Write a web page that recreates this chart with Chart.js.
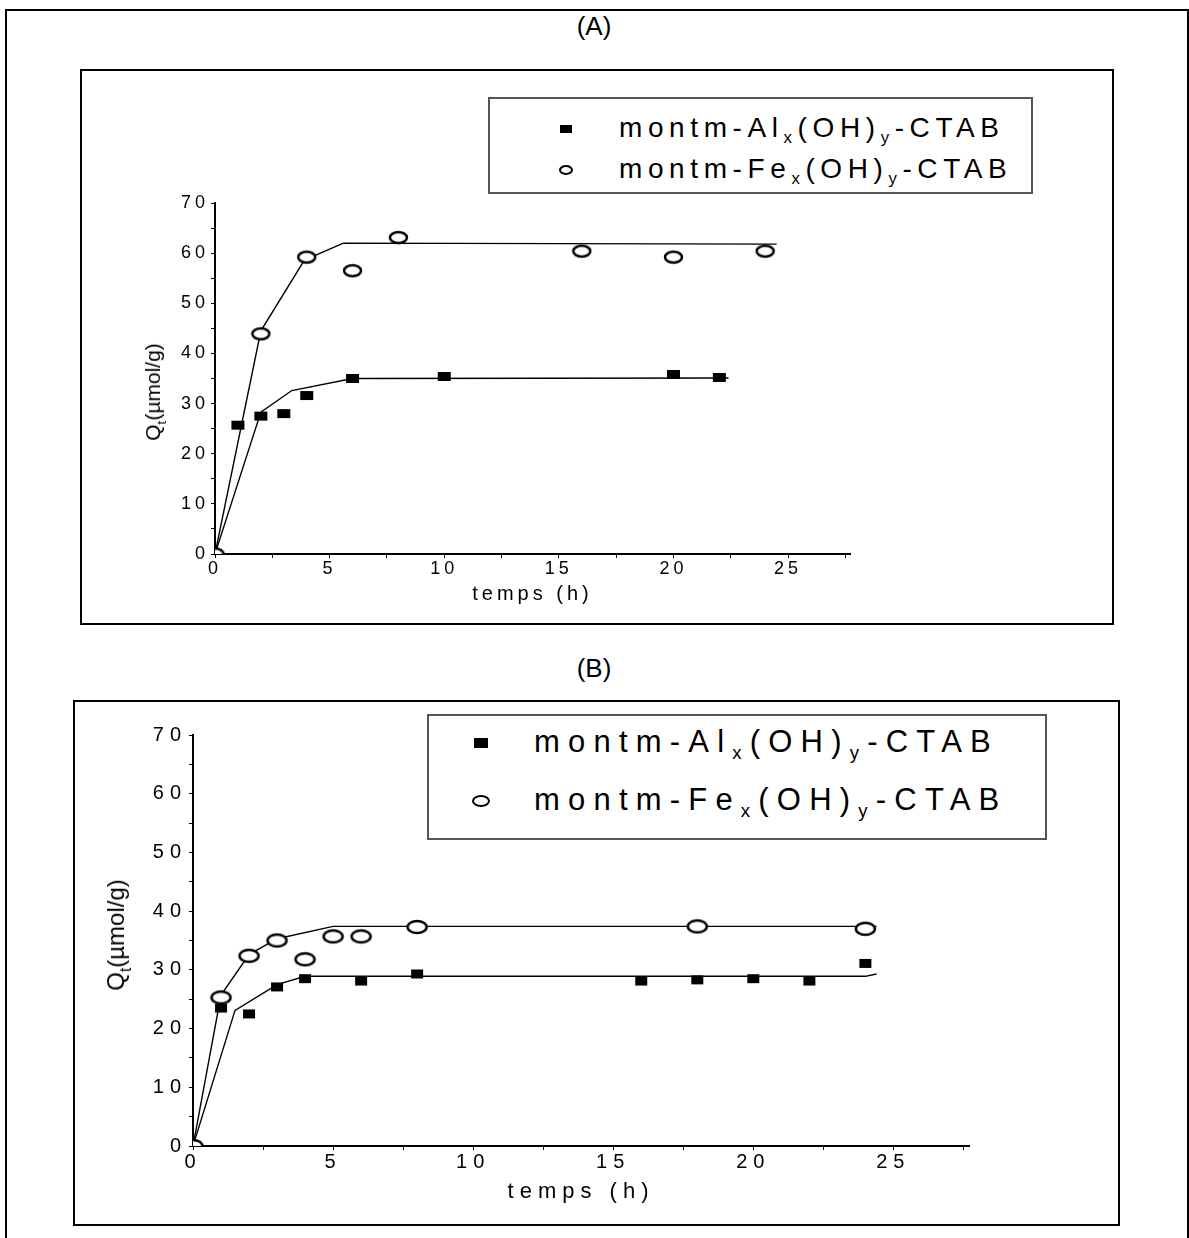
<!DOCTYPE html>
<html><head><meta charset="utf-8">
<script src="https://cdn.jsdelivr.net/npm/chart.js@4/dist/chart.umd.min.js"></script>
<style>
body{margin:0;background:#fff;font-family:"Liberation Sans",Arial,sans-serif;color:#000;}
#page{position:relative;width:1189px;height:1238px;overflow:hidden;}
.frame{position:absolute;border:2px solid #000;box-sizing:border-box;}
.lbl{position:absolute;transform:translate(-50%,-50%);white-space:nowrap;}
canvas{position:absolute;}
.legend{position:absolute;border:2px solid #555;box-sizing:border-box;background:#fff;}
.row{position:absolute;white-space:nowrap;}
.row sub{font-size:0.6em;vertical-align:-0.35em;line-height:0;}
.sq{position:absolute;background:#000;transform:translate(-50%,-50%);}
.el{position:absolute;border:2px solid #000;border-radius:50%;box-sizing:border-box;transform:translate(-50%,-50%);}
.ytitle{position:absolute;white-space:nowrap;transform:translate(-50%,-50%) rotate(-90deg);}
.ytitle sub{font-size:0.65em;vertical-align:-0.45em;line-height:0;}
</style>
</head><body>
<div id="page">
  <div class="frame" style="left:5px;top:9px;width:1184px;height:1250px;"></div>
  <div class="lbl" style="left:594px;top:26px;font-size:26px;">(A)</div>
  <div class="frame" style="left:80px;top:69px;width:1034px;height:556px;"></div>
  <canvas id="chartA" width="1030" height="552" style="left:82px;top:71px;"></canvas>
  <div class="ytitle" style="left:153px;top:392px;font-size:21px;">Q<sub>t</sub>(µmol/g)</div>
  <div class="legend" style="left:488px;top:97px;width:545px;height:97px;"></div>
  <div class="sq" style="left:566px;top:129px;width:12px;height:8px;"></div>
  <div class="el" style="left:566px;top:170px;width:14px;height:10px;"></div>
  <div class="row" style="left:619px;top:112px;font-size:28px;line-height:32px;letter-spacing:5.6px;">montm-Al<sub>x</sub>(OH)<sub>y</sub>-CTAB</div>
  <div class="row" style="left:619px;top:153px;font-size:28px;line-height:32px;letter-spacing:5.6px;">montm-Fe<sub>x</sub>(OH)<sub>y</sub>-CTAB</div>

  <div class="lbl" style="left:594px;top:668px;font-size:26px;">(B)</div>
  <div class="frame" style="left:73px;top:700px;width:1047px;height:526px;"></div>
  <canvas id="chartB" width="1043" height="522" style="left:75px;top:702px;"></canvas>
  <div class="ytitle" style="left:116px;top:935px;font-size:24px;">Q<sub>t</sub>(µmol/g)</div>
  <div class="legend" style="left:427px;top:714px;width:620px;height:126px;"></div>
  <div class="sq" style="left:481px;top:743px;width:14px;height:10px;"></div>
  <div class="el" style="left:481px;top:801px;width:18px;height:12px;"></div>
  <div class="row" style="left:534px;top:725px;font-size:31px;line-height:34px;letter-spacing:8.2px;">montm-Al<sub>x</sub>(OH)<sub>y</sub>-CTAB</div>
  <div class="row" style="left:534px;top:783px;font-size:31px;line-height:34px;letter-spacing:8.2px;">montm-Fe<sub>x</sub>(OH)<sub>y</sub>-CTAB</div>
</div>
<script>
// ---- data (A) ----
const aAlTime = [1, 2, 3, 4, 6, 10, 20, 22];
const aAlQ    = [25.7, 27.5, 28.0, 31.6, 35.0, 35.4, 35.8, 35.2];
const aFeTime = [0, 2, 4, 6, 8, 16, 20, 24];
const aFeQ    = [0, 43.9, 59.2, 56.5, 63.1, 60.4, 59.2, 60.4];
const aAlFitTime = [0, 2, 3.35, 6, 22.4];
const aAlFitQ    = [0, 28.3, 32.6, 35.0, 35.1];
const aFeFitTime = [0, 2, 3.9, 5.6, 24.5];
const aFeFitQ    = [0, 44.5, 58.6, 62.0, 61.8];
// ---- data (B) ----
const bAlTime = [1, 2, 3, 4, 6, 8, 16, 18, 20, 22, 24];
const bAlQ    = [23.5, 22.5, 27.1, 28.5, 28.1, 29.3, 28.1, 28.3, 28.5, 28.1, 31.1];
const bFeTime = [0, 1, 2, 3, 4, 5, 6, 8, 18, 24];
const bFeQ    = [0, 25.3, 32.4, 35.0, 31.8, 35.7, 35.7, 37.3, 37.4, 37.0];
const bAlFitTime = [0, 1.5, 3, 4, 24.0, 24.4];
const bAlFitQ    = [0, 23.1, 27.5, 28.9, 28.9, 29.3];
const bFeFitTime = [0, 1, 2, 3, 5, 24.4];
const bFeFitQ    = [0, 25.7, 32.6, 35.3, 37.4, 37.4];
// ---- axis ----
const xMax = 27.7;
const yMax = 70;
const xTitle = 'temps (h)';
const seriesNames = ['montm-Alx(OH)y-CTAB', 'montm-Fex(OH)y-CTAB'];

const FONT = '"Liberation Sans", Arial, sans-serif';

function toXY(xs, ys) { return xs.map((x, i) => ({ x: x, y: ys[i] })); }

function markerImg(kind, w, h, lw) {
  const c = document.createElement('canvas');
  const pad = Math.ceil(lw) + 1;
  c.width = w + pad * 2; c.height = h + pad * 2;
  const g = c.getContext('2d');
  if (kind === 'rect') {
    g.fillStyle = '#000'; g.fillRect(pad, pad, w, h);
  } else {
    g.beginPath();
    g.ellipse(c.width / 2, c.height / 2, w / 2, h / 2, 0, 0, Math.PI * 2);
    g.fillStyle = '#fff'; g.fill();
    g.lineWidth = lw; g.strokeStyle = '#000'; g.stroke();
  }
  return c;
}

const spacingPlugin = {
  id: 'spacing',
  beforeDraw(chart, args, opts) { chart.ctx.letterSpacing = (opts.px || 0) + 'px'; }
};

function buildChart(id, s) {
  return new Chart(document.getElementById(id), {
    type: 'scatter',
    data: {
      datasets: [
        { label: 'fit Al', data: toXY(s.alFitT, s.alFitQ), showLine: true, borderColor: '#000', borderWidth: 1.4, pointRadius: 0, tension: 0, order: 2 },
        { label: 'fit Fe', data: toXY(s.feFitT, s.feFitQ), showLine: true, borderColor: '#000', borderWidth: 1.4, pointRadius: 0, tension: 0, order: 3 },
        { label: seriesNames[0], data: toXY(s.alT, s.alQ), pointStyle: s.sq, pointRadius: 6, order: 0 },
        { label: seriesNames[1], data: toXY(s.feT, s.feQ), pointStyle: s.circ, pointRadius: 6, order: 1 }
      ]
    },
    options: {
      responsive: false, animation: false, devicePixelRatio: 1,
      layout: { padding: { left: 0, top: s.padTop, right: s.padRight, bottom: 0 } },
      plugins: { legend: { display: false }, tooltip: { enabled: false }, spacing: { px: s.ls } },
      scales: {
        x: {
          type: 'linear', min: 0, max: xMax,
          afterFit: (sc) => { sc.height = s.xH; },
          border: { color: '#000', width: 2 },
          grid: { drawOnChartArea: false, drawTicks: true, tickLength: 4, color: '#000' },
          ticks: {
            stepSize: 2.5, autoSkip: false, maxRotation: 0, includeBounds: false,
            color: '#000', padding: 0, font: { family: FONT, size: s.tickSize },
            callback: (v) => (Math.abs(v % 5) < 1e-9 ? String(v) : '')
          },
          title: { display: true, text: xTitle, color: '#000', font: { family: FONT, size: s.titleSize }, padding: { top: 0, bottom: s.titlePadB } }
        },
        y: {
          type: 'linear', min: 0, max: yMax,
          afterFit: (sc) => { sc.width = s.yW; },
          border: { color: '#000', width: 2 },
          grid: { drawOnChartArea: false, drawTicks: true, tickLength: 4, color: '#000' },
          ticks: {
            stepSize: 5, autoSkip: false, color: '#000', padding: 2,
            font: { family: FONT, size: s.tickSize },
            callback: (v) => (v % 10 === 0 ? String(v) : '')
          }
        }
      }
    },
    plugins: [spacingPlugin]
  });
}

buildChart('chartA', {
  alT: aAlTime, alQ: aAlQ, feT: aFeTime, feQ: aFeQ,
  alFitT: aAlFitTime, alFitQ: aAlFitQ, feFitT: aFeFitTime, feFitQ: aFeFitQ,
  sq: markerImg('rect', 13, 9, 0), circ: markerImg('ellipse', 17, 11, 2.5),
  padTop: 132, padRight: 262, xH: 69, yW: 133,
  tickSize: 18, titleSize: 20, titlePadB: 17, ls: 4
});

buildChart('chartB', {
  alT: bAlTime, alQ: bAlQ, feT: bFeTime, feQ: bFeQ,
  alFitT: bAlFitTime, alFitQ: bAlFitQ, feFitT: bFeFitTime, feFitQ: bFeFitQ,
  sq: markerImg('rect', 12, 9, 0), circ: markerImg('ellipse', 19, 12, 2.5),
  padTop: 33, padRight: 149, xH: 78, yW: 118,
  tickSize: 20, titleSize: 22, titlePadB: 19, ls: 6
});
</script>
</body></html>
